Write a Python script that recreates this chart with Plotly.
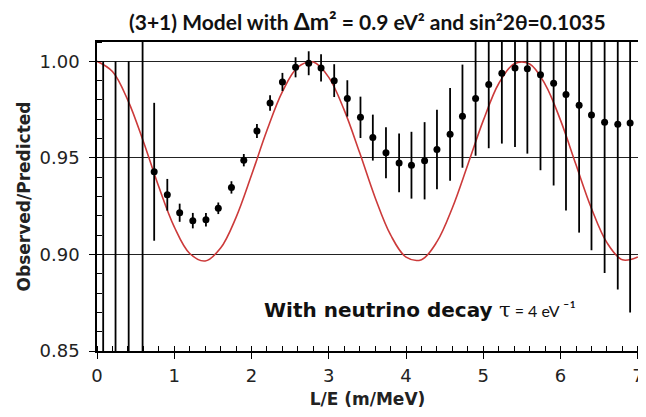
import plotly.graph_objects as go

# ---- data ----
le_points = [0.08, 0.24, 0.41, 0.59,
             0.74, 0.91, 1.07, 1.24, 1.41, 1.57, 1.74, 1.90, 2.07, 2.24,
             2.40, 2.57, 2.74, 2.90, 3.07, 3.24, 3.41, 3.57, 3.74, 3.91,
             4.07, 4.24, 4.40, 4.57, 4.73, 4.90, 5.07, 5.24, 5.41, 5.57,
             5.74, 5.91, 6.07, 6.24, 6.40, 6.57, 6.74, 6.90]
ratio = [0.800, 0.800, 0.800, 0.800,
         0.9428, 0.9309, 0.9216, 0.9175, 0.9180, 0.9239, 0.9347, 0.9488, 0.9639, 0.9784,
         0.9893, 0.9969, 0.9990, 0.9966, 0.9900, 0.9808, 0.9710, 0.9605, 0.9527, 0.9474,
         0.9462, 0.9485, 0.9543, 0.9622, 0.9716, 0.9808, 0.9880, 0.9938, 0.9966, 0.9962,
         0.9931, 0.9887, 0.9828, 0.9773, 0.9722, 0.9684, 0.9674, 0.9680]
ratio_err = [0.200, 0.200, 0.200, 0.220,
             0.0357, 0.0082, 0.0047, 0.0040, 0.0035, 0.0030, 0.0032, 0.0032, 0.0036, 0.0040,
             0.0047, 0.0052, 0.0062, 0.0070, 0.0085, 0.0094, 0.0107, 0.0119, 0.0132, 0.0152,
             0.0173, 0.0200, 0.0206, 0.0240, 0.0267, 0.0297, 0.0330, 0.0364, 0.0410, 0.0440,
             0.0495, 0.0530, 0.0600, 0.0660, 0.0700, 0.0780, 0.0856, 0.0980]

curve_le = [0.0, 0.2, 0.4, 0.6, 0.8, 1.0, 1.2, 1.4, 1.6, 1.8, 2.0, 2.2, 2.4, 2.6,
            2.8, 3.0, 3.2, 3.4, 3.6, 3.8, 4.0, 4.2, 4.4, 4.6, 4.8, 5.0, 5.2, 5.4,
            5.6, 5.8, 6.0, 6.2, 6.4, 6.6, 6.8, 7.0]
curve_ratio = [1.000, 0.9947, 0.9798, 0.9585, 0.9350, 0.9143, 0.9005, 0.8966, 0.9033,
               0.9192, 0.9411, 0.9643, 0.9843, 0.9970, 0.9996, 0.9917, 0.9747, 0.9526,
               0.9294, 0.9101, 0.8986, 0.8973, 0.9066, 0.9242, 0.9466, 0.9694, 0.9885,
               0.9987, 0.9986, 0.9881, 0.9694, 0.9464, 0.9238, 0.9061, 0.8972, 0.8987]

y_ticks = [0.85, 0.90, 0.95, 1.00]
y_tick_text = ["0.85", "0.90", "0.95", "1.00"]
x_ticks = [0, 1, 2, 3, 4, 5, 6, 7]

fig = go.Figure()

fig.add_trace(go.Scatter(
    x=curve_le, y=curve_ratio, mode="lines",
    line=dict(color="#cc3a3a", width=1.6, shape="spline", smoothing=1.0),
    hoverinfo="skip", showlegend=False))

fig.add_trace(go.Scatter(
    x=le_points, y=ratio, mode="markers",
    marker=dict(color="black", size=7),
    error_y=dict(type="data", array=ratio_err, color="black", thickness=1.8, width=0),
    showlegend=False))

axis_font = dict(family="DejaVu Sans", size=18, color="#222222")

fig.update_xaxes(
    range=[0, 7.002], tickvals=x_ticks, ticks="outside", ticklen=6, tickwidth=1.3,
    tickcolor="black", showgrid=False, zeroline=False, automargin=False,
    showline=True, linecolor="black", linewidth=1.5, mirror=True,
    tickfont=axis_font, ticklabeloverflow="allow", ticklabelstandoff=2,
    minor=dict(dtick=0.2, ticks="inside", ticklen=5, tickwidth=1.1, tickcolor="black", showgrid=False),
    title=dict(text="<b>L/E (m/MeV)</b>", font=dict(family="DejaVu Sans", size=17, color="#222222"), standoff=15),
)
fig.update_yaxes(
    range=[0.85, 1.01], tickvals=y_ticks, ticktext=y_tick_text, ticks="outside",
    ticklen=6, tickwidth=1.3, tickcolor="black", automargin=False, ticklabelstandoff=6,
    showgrid=True, gridcolor="#222222", gridwidth=1.3, zeroline=False,
    showline=True, linecolor="black", linewidth=1.5, mirror=True,
    tickfont=axis_font,
    minor=dict(dtick=0.01, ticks="inside", ticklen=5, tickwidth=1.1, tickcolor="black", showgrid=False),
    title=dict(text="<b>Observed/Predicted</b>", font=dict(family="DejaVu Sans", size=17, color="#222222"), standoff=5),
)

fig.add_annotation(
    xref="paper", yref="paper", x=0.5, y=1 + 21 / 309, yanchor="middle", xanchor="center",
    showarrow=False,
    text=("<b>(3+1) Model with <span style='font-size:23px'>Δm²</span> = 0.9 eV²"
          " and sin²2θ=0.1035</b>"),
    font=dict(family="Lato", size=21, color="#111111"),
)

fig.add_annotation(
    xref="paper", yref="paper", x=(262 - 97) / 541, y=(351 - 310) / 309,
    xanchor="left", yanchor="middle", showarrow=False,
    text=("<b>With neutrino decay</b> <span style='font-family:DejaVu Serif;font-size:21px'>τ</span>"
          "<span style='font-family:Lato;font-size:16px'> = 4 eV <span style='font-size:19px'>⁻¹</span></span>"),
    font=dict(family="DejaVu Sans", size=20, color="#111111"),
)

# page body has an 8px margin: size the figure so the page is exactly 646x417
fig.update_layout(
    width=638, height=401,
    margin=dict(l=89, r=8, t=34, b=58),
    paper_bgcolor="white", plot_bgcolor="white",
    showlegend=False,
)

fig.write_html("out.html")
